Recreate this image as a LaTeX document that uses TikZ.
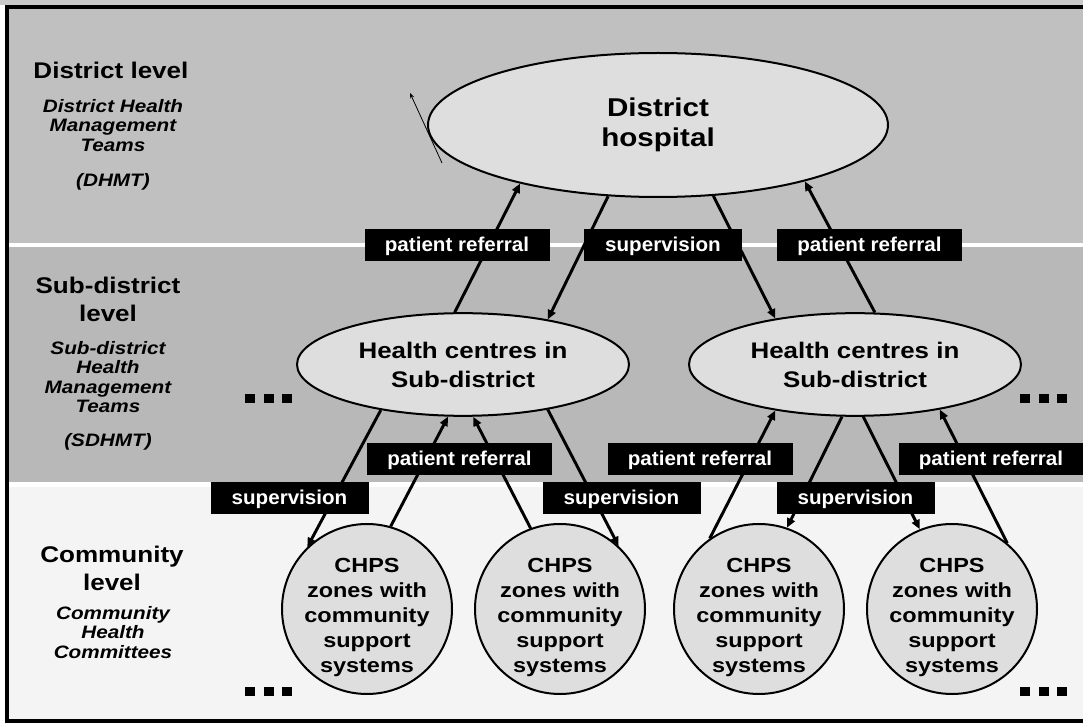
\documentclass[tikz,border=0pt]{standalone}
\usepackage{fontspec}
\setmainfont{Liberation Sans}[FakeStretch=1.15]
\newfontfamily\tagfont{Liberation Sans}[FakeStretch=1.03]
\usetikzlibrary{shapes.geometric}
\usetikzlibrary{arrows.meta}
\definecolor{districtgray}{HTML}{C0C0C0}
\definecolor{subgray}{HTML}{B8B8B8}
\definecolor{communitygray}{HTML}{F4F4F4}
\definecolor{nodegray}{HTML}{DEDEDE}
\tikzstyle{levelhead}=[font=\fontsize{17}{21}\selectfont\bfseries, align=center, inner sep=0, anchor=north]
\tikzstyle{levelsub}=[font=\fontsize{13.5}{14.6}\selectfont\bfseries\itshape, align=center, inner sep=0, anchor=north]
\tikzstyle{hospital}=[ellipse, draw, line width=1.5pt, fill=nodegray, minimum width=345pt, minimum height=108pt, inner sep=0, align=center, font=\fontsize{19.3}{22.5}\selectfont\bfseries]
\tikzstyle{centre}=[ellipse, draw, line width=1.5pt, fill=nodegray, minimum width=249pt, minimum height=77pt, inner sep=0, align=center, font=\fontsize{16.9}{21.75}\selectfont\bfseries]
\tikzstyle{zone}=[circle, draw, line width=1.5pt, fill=nodegray, minimum size=127.5pt, inner sep=0]
\tikzstyle{zone text}=[align=center, inner sep=0, font=\fontsize{15.3}{18.75}\selectfont\bfseries]
\tikzstyle{flowtag}=[fill=black, text=white, inner sep=0, minimum height=24pt, text height=10.5pt, text depth=0pt, font=\tagfont\fontsize{15}{18}\selectfont\bfseries]
\tikzstyle{referral}=[flowtag, minimum width=138.75pt]
\tikzstyle{supervise}=[flowtag, minimum width=118.5pt]
\tikzstyle{flow}=[line width=2.2pt, -{Triangle[length=7pt, width=6pt]}]

\begin{document}
\begin{tikzpicture}[x=0.75pt, y=-0.75pt]
      \useasboundingbox (0,0) rectangle (1083,723);
      \clip (0,0) rectangle (1083,723);

      % level bands
      \fill[white] (0,0) rectangle (1083,723);
      \fill[districtgray!85!white] (0,0) rectangle (1083,5);
      \fill[districtgray] (7,7) rectangle (1083,243);
      \fill[subgray] (7,247) rectangle (1083,482);
      \fill[communitygray] (7,487) rectangle (1083,721);
      \draw[line width=3pt] (7,7) rectangle (1100,721.5);

      % level titles
      \node[levelhead, anchor=base] (district head) at (111,79) {District level};
      \node[levelsub] (district sub) at (113,99) {District Health\\Management\\Teams\\[11.6pt](DHMT)};
      \node[levelhead] (sub head) at (108,276.5) {Sub-district\\level};
      \node[levelsub] (sub sub) at (108,341) {Sub-district\\Health\\Management\\Teams\\[10.5pt](SDHMT)};
      \node[levelhead] (community head) at (112,545.7) {Community\\level};
      \node[levelsub] (community sub) at (113,606) {Community\\Health\\Committees};

      % facilities
      \node[hospital] (hosp) at (658,125) {District\\hospital};
      \node[centre] (hc left) at (463,364.5) {Health centres in\\Sub-district};
      \node[centre] (hc right) at (855,364.5) {Health centres in\\Sub-district};
      \foreach \i/\x in {1/367, 2/560, 3/759, 4/952} {
        \node[zone] (chps \i) at (\x,609) {};
        \node[zone text] (chps text \i) at ([yshift=-6pt]chps \i.center) {CHPS\\zones with\\community\\support\\systems};
      }

      \coordinate (stray tail) at (442,163);
      \coordinate (stray tip) at (410,93);
      \draw[line width=0.6pt, -{Stealth[length=4pt, width=3pt]}] (stray tail) -- (stray tip);

      % district <-> sub-district
      \draw[flow] (hc left.99) -- (hosp.-157);
      \draw[flow] (hosp.-125) -- (hc left.28);
      \draw[flow] (hosp.-52) -- (hc right.150);
      \draw[flow] (hc right.69) -- (hosp.-21);

      % sub-district <-> community
      \draw[flow] (hc left.-151) -- (chps 1.134);
      \draw[flow] (chps 1.74) -- (hc left.-106);
      \draw[flow] (chps 2.110) -- (hc left.-79);
      \draw[flow] (hc left.-28) -- (chps 2.47);
      \draw[flow] (chps 3.125) -- (hc right.-150);
      \draw[flow] (hc right.-104) -- (chps 3.71);
      \draw[flow] (hc right.-81) -- (chps 4.112);
      \draw[flow] (chps 4.50) -- (hc right.-28);

      % tags
      \node[referral] (ref a) at (457,245) {patient referral};
      \node[supervise] (sup a) at (663,245) {supervision};
      \node[referral] (ref b) at (869.5,245) {patient referral};
      \node[referral] (ref c) at (459.5,459) {patient referral};
      \node[supervise] (sup b) at (289.5,498) {supervision};
      \node[supervise] (sup c) at (621.5,498) {supervision};
      \node[referral] (ref d) at (700,459) {patient referral};
      \node[supervise] (sup d) at (855.5,498) {supervision};
      \node[referral] (ref e) at (991,459) {patient referral};

      % more of the same
      \foreach \dx/\dy in {245/394, 1020/394, 245/687, 1020/687}
        \foreach \s in {0, 18.5, 37}
          \fill (\dx+\s,\dy) rectangle +(10,9);
    \end{tikzpicture}
\end{document}
